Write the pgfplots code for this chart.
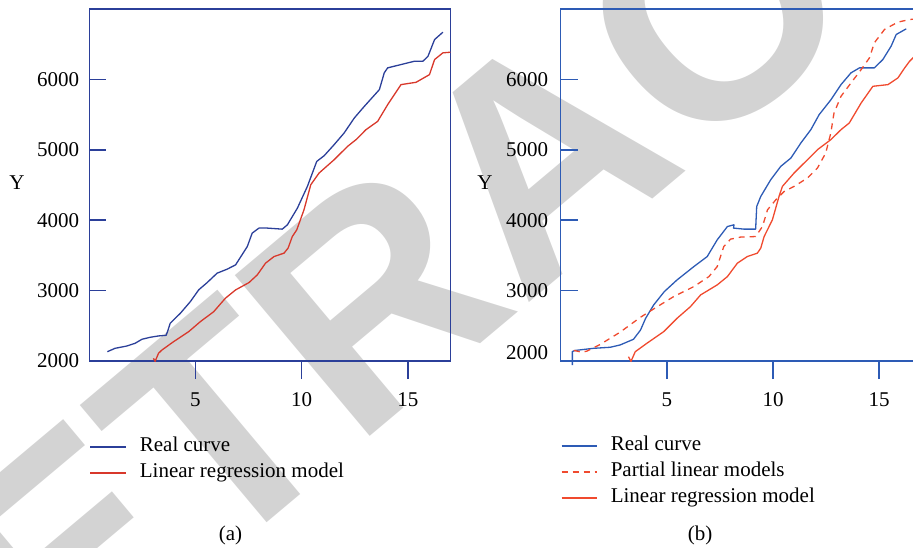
\documentclass[border=0pt]{standalone}
\usepackage{fontspec}
\setmainfont{Liberation Serif}
\newfontfamily\wmfont{Liberation Sans}
\usepackage{pgfplots}
\pgfplotsset{compat=1.18}
\pgfdeclarelayer{wmlayer}
\pgfsetlayers{wmlayer,main}
\definecolor{cAblue}{HTML}{2B3F99}
\definecolor{cAred}{HTML}{D8382B}
\definecolor{cBblue}{HTML}{2D5BB5}
\definecolor{cBred}{HTML}{F04A2E}
\definecolor{wm}{HTML}{D3D3D3}
\newcommand{\lbl}{\fontsize{21}{24}\selectfont}
\pgfplotsset{
  panel/.style={
    scale only axis, width=361pt, height=352pt,
    xmin=0, xmax=17, ymin=2000, ymax=7000,
    xtick={5,10,15},
    xtick pos=bottom, ytick pos=left,
    tick align=inside, major tick length=17pt,
    clip=false,
    /pgf/number format/.cd, 1000 sep={}, assume math mode=true, /pgfplots/.cd,
    ticklabel style={font=\lbl},
    xticklabel style={anchor=center, inner sep=0pt, yshift=-39pt},
    yticklabel style={anchor=east, inner sep=0pt},
    ylabel={Y},
    every axis y label/.style={at={(axis description cs:0,0.5)}, anchor=center, font=\lbl},
    legend style={draw=none, fill=none, inner sep=0pt, outer sep=0pt,
      row sep=7pt, column sep=13.5pt, font=\lbl,
      nodes={inner sep=0pt, text height=14pt, text depth=5pt},
      at={(axis description cs:0,0)}, anchor=north west},
    legend cell align=left,
  }
}
\begin{document}
\begin{tikzpicture}
\begin{axis}[panel, at={(89.3pt,186pt)}, anchor=south west,
  ytick={3000,4000,5000,6000},
  extra y ticks={2000},
  axis line style={draw=cAblue, line width=1.3pt},
  ytick style={draw=cAblue, line width=1.5pt},
  xtick style={draw=cAblue, line width=1.6pt, yshift=-18pt},
  yticklabel style={xshift=-10pt},
  every axis y label/.append style={xshift=-72.3pt, yshift=2pt},
  legend style={xshift=0pt, yshift=-76.3pt},
  legend image code/.code={\draw[#1, line width=1.6pt] (0pt,0pt) -- (35.5pt,0pt);}]
\addplot[draw=cAblue, line width=1.3pt, line join=round] coordinates {
(0.85,2132)(1.21,2180)(1.77,2213)(2.16,2252)(2.48,2309)(2.87,2337)(3.26,2356)(3.62,2365)(3.71,2441)(3.81,2536)(4.29,2679)(4.76,2844)(5.15,3010)(5.55,3114)(6.02,3248)(6.49,3304)(6.89,3366)(7.44,3626)(7.67,3816)(7.99,3888)(8.38,3888)(9.09,3873)(9.33,3935)(9.80,4172)(10.27,4480)(10.71,4835)(11.06,4916)(11.53,5073)(12.0,5239)(12.48,5452)(12.95,5617)(13.66,5855)(13.89,6093)(14.05,6164)(14.68,6211)(15.31,6258)(15.71,6258)(15.95,6329)(16.26,6566)(16.65,6670)};
\addlegendentry{Real curve}
\addplot[draw=cAred, line width=1.3pt, line join=round] coordinates {
(3.02,2038)(3.10,1995)(3.26,2110)(3.42,2156)(3.97,2275)(4.68,2417)(5.23,2559)(5.86,2701)(6.41,2892)(6.89,3010)(7.52,3114)(7.91,3223)(8.30,3390)(8.70,3484)(9.17,3532)(9.36,3603)(9.56,3768)(9.77,3863)(10.11,4148)(10.43,4504)(10.82,4670)(11.53,4859)(12.16,5048)(12.56,5144)(13.03,5286)(13.58,5404)(14.05,5641)(14.68,5926)(15.39,5959)(16.02,6068)(16.26,6282)(16.65,6377)(17.0,6386)};
\addlegendentry{Linear regression model}
\end{axis}

\begin{axis}[panel, at={(560.7pt,186pt)}, anchor=south west,
  ytick={3000,4000,5000,6000},
  extra y ticks={2000},
  extra y tick style={yticklabel style={yshift=8pt}},
  axis line style={draw=cBblue, line width=1.3pt},
  ytick style={draw=cBblue, line width=1.5pt},
  xtick style={draw=cBblue, line width=1.6pt, yshift=-18pt},
  yticklabel style={xshift=-12.4pt},
  every axis y label/.append style={xshift=-75.7pt, yshift=2pt},
  legend style={xshift=0pt, yshift=-75.5pt},
  legend image code/.code={\draw[#1, line width=1.6pt] (0pt,0pt) -- (35pt,0pt);}]
\addplot[draw=cBblue, line width=1.3pt, line join=round] coordinates {
(0.55,1943)(0.55,2135)(0.68,2150)(1.54,2180)(2.33,2195)(2.80,2228)(3.43,2309)(3.76,2441)(4.0,2607)(4.38,2797)(4.88,2986)(5.48,3152)(6.27,3341)(6.90,3484)(7.37,3721)(7.85,3910)(8.16,3935)(8.14,3888)(8.63,3873)(9.18,3873)(9.23,4195)(9.42,4337)(9.89,4575)(10.36,4764)(10.84,4883)(11.31,5097)(11.78,5286)(12.17,5499)(12.73,5713)(13.2,5926)(13.67,6093)(14.07,6164)(14.77,6164)(15.17,6282)(15.56,6472)(15.8,6638)(16.27,6718)};
\addlegendentry{Real curve}
\addplot[draw=cBred, line width=1.3pt, dash pattern=on 6pt off 5pt, line join=round] coordinates {
(0.62,2150)(1.0,2125)(1.23,2140)(1.86,2235)(2.80,2410)(3.75,2620)(4.38,2740)(5.32,2915)(6.27,3057)(6.98,3199)(7.37,3341)(7.68,3626)(8.0,3731)(8.47,3760)(9.18,3768)(9.50,3910)(9.74,4148)(10.13,4290)(10.52,4408)(10.99,4480)(11.62,4599)(12.09,4741)(12.48,4954)(12.72,5239)(12.87,5523)(13.2,5760)(13.67,5950)(14.15,6140)(14.54,6306)(14.77,6520)(15.25,6710)(15.88,6814)(16.43,6850)(17,6870)};
\addlegendentry{Partial linear models}
\addplot[draw=cBred, line width=1.3pt, line join=round] coordinates {
(3.19,2061)(3.31,1995)(3.51,2132)(4.06,2252)(4.85,2417)(5.48,2607)(6.11,2772)(6.59,2939)(7.37,3081)(7.85,3199)(8.32,3390)(8.79,3484)(9.26,3532)(9.42,3603)(9.58,3768)(9.97,4006)(10.28,4337)(10.44,4480)(10.99,4670)(11.62,4859)(12.09,5001)(12.72,5144)(13.2,5286)(13.59,5381)(14.15,5666)(14.70,5902)(15.41,5926)(15.88,6021)(16.2,6164)(16.43,6258)(16.67,6329)(17,6380)};
\addlegendentry{Linear regression model}
\end{axis}

\node[font=\lbl] at (230.5pt,12pt) {(a)};
\node[font=\lbl] at (700pt,12pt) {(b)};

\begin{pgfonlayer}{wmlayer}
\node[anchor=base west, rotate=40, inner sep=0pt, text=wm,
  font=\wmfont\bfseries\fontsize{305pt}{305pt}\selectfont] at (-112.6pt,-294.4pt) {RETRACTED};
\end{pgfonlayer}

\pgfresetboundingbox
\useasboundingbox (0pt,0pt) rectangle (913pt,547pt);
\end{tikzpicture}
\end{document}
